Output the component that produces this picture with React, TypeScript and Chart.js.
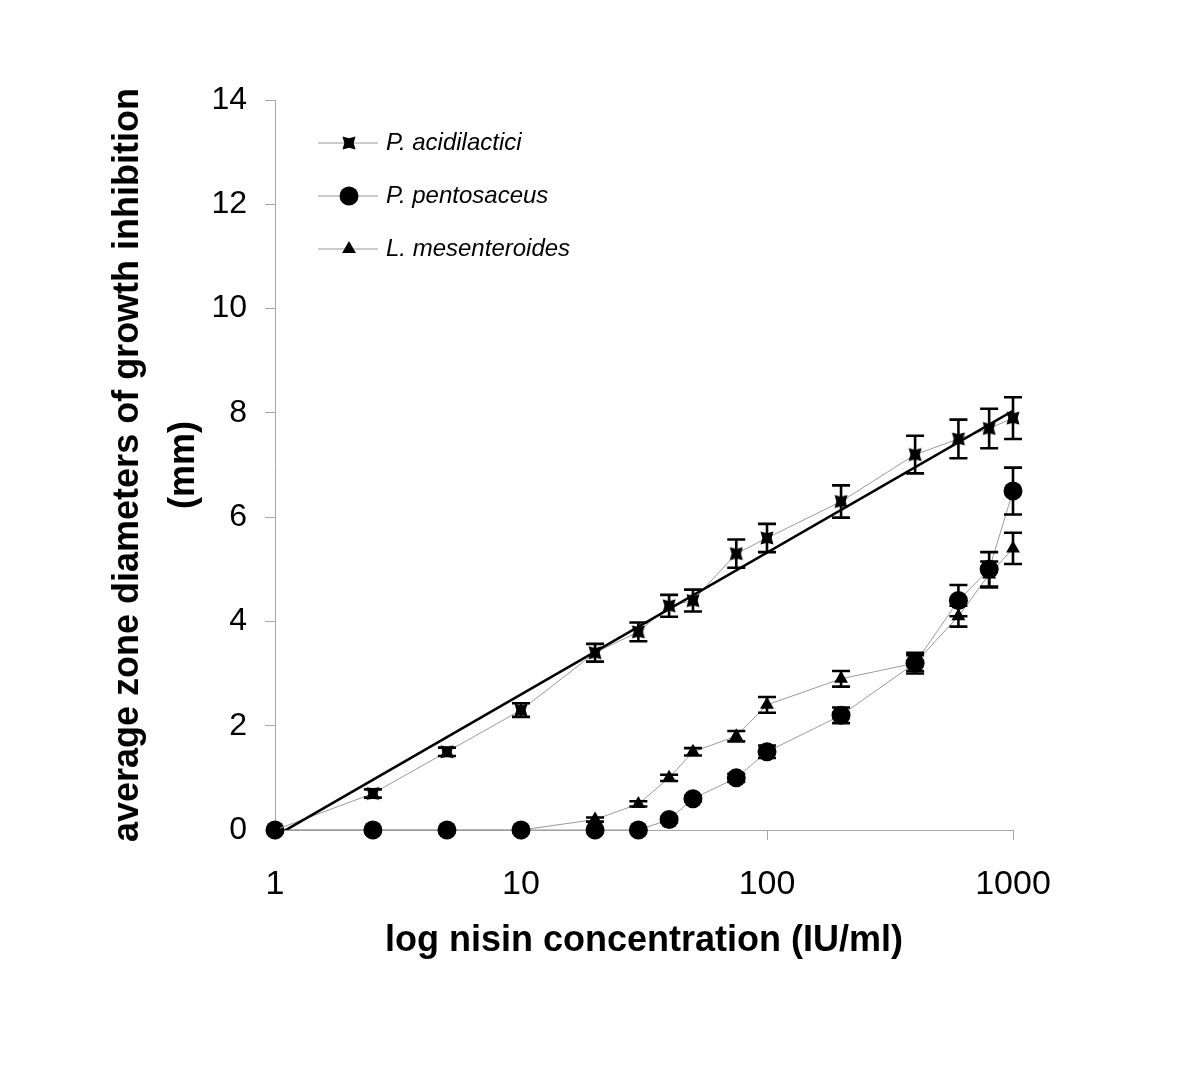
import React, { useEffect, useRef } from 'react';
import { Chart, registerables } from 'chart.js';

Chart.register(...registerables);

const FONT = '"Liberation Sans", Arial, Helvetica, sans-serif';

// Nisin concentrations (IU/ml)
const X_VALUES = [1, 2.5, 5, 10, 20, 30, 40, 50, 75, 100, 200, 400, 600, 800, 1000];

const SERIES_NAMES = ['P. acidilactici', 'P. pentosaceus', 'L. mesenteroides'];

const ACIDILACTICI = [0, 0.7, 1.5, 2.3, 3.4, 3.8, 4.3, 4.4, 5.3, 5.6, 6.3, 7.2, 7.5, 7.7, 7.9];
const ACIDILACTICI_ERR = [0, 0.08, 0.08, 0.13, 0.17, 0.18, 0.21, 0.21, 0.27, 0.27, 0.31, 0.36, 0.37, 0.38, 0.4];

const PENTOSACEUS = [0, 0, 0, 0, 0, 0, 0.2, 0.6, 1.0, 1.5, 2.2, 3.2, 4.4, 5.0, 6.5];
const PENTOSACEUS_ERR = [0, 0, 0, 0, 0, 0, 0.05, 0.05, 0.08, 0.12, 0.15, 0.2, 0.3, 0.33, 0.45];

const MESENTEROIDES = [0, 0, 0, 0, 0.2, 0.5, 1.0, 1.5, 1.8, 2.4, 2.9, 3.2, 4.1, 4.9, 5.4];
const MESENTEROIDES_ERR = [0, 0, 0, 0, 0.04, 0.05, 0.06, 0.07, 0.1, 0.15, 0.15, 0.15, 0.2, 0.25, 0.3];

// Logarithmic trend line of P. acidilactici (end points)
const TREND_X = [1, 1000];
const TREND_Y = [-0.12, 8.04];

const X_TICKS = [1, 10, 100, 1000];
const Y_MIN = 0;
const Y_MAX = 14;
const Y_STEP = 2;

const X_TITLE = 'log nisin concentration (IU/ml)';
const Y_TITLE = ['average zone diameters of growth inhibition', '(mm)'];

function starPath(g: CanvasRenderingContext2D, cx: number, cy: number, s: number) {
  const k = 0.72;
  g.beginPath();
  g.moveTo(cx - s, cy - s);
  g.lineTo(cx, cy - s * k);
  g.lineTo(cx + s, cy - s);
  g.lineTo(cx + s * k, cy);
  g.lineTo(cx + s, cy + s);
  g.lineTo(cx, cy + s * k);
  g.lineTo(cx - s, cy + s);
  g.lineTo(cx - s * k, cy);
  g.closePath();
}

function makeStarCanvas(): HTMLCanvasElement {
  const c = document.createElement('canvas');
  c.width = 16;
  c.height = 16;
  const g = c.getContext('2d') as CanvasRenderingContext2D;
  starPath(g, 8, 8, 6.5);
  g.fillStyle = '#000';
  g.fill();
  return c;
}

function drawMarker(g: CanvasRenderingContext2D, kind: number, x: number, y: number, r: number) {
  g.fillStyle = '#000';
  if (kind === 0) {
    starPath(g, x, y, 6.5);
    g.fill();
  } else if (kind === 1) {
    g.beginPath();
    g.arc(x, y, r, 0, Math.PI * 2);
    g.fill();
  } else {
    g.beginPath();
    let a = 0;
    g.moveTo(x + Math.sin(a) * r, y - Math.cos(a) * r);
    a += (2 * Math.PI) / 3;
    g.lineTo(x + Math.sin(a) * r, y - Math.cos(a) * r);
    a += (2 * Math.PI) / 3;
    g.lineTo(x + Math.sin(a) * r, y - Math.cos(a) * r);
    g.closePath();
    g.fill();
  }
}

export default function App() {
  const canvasRef = useRef<HTMLCanvasElement | null>(null);

  useEffect(() => {
    document.body.style.margin = '0';
    const canvas = canvasRef.current;
    if (!canvas) return;

    const star = makeStarCanvas();
    const styles: any[] = [star, 'circle', 'triangle'];
    const radii = [8, 9.5, 8];
    const values = [ACIDILACTICI, PENTOSACEUS, MESENTEROIDES];
    const errors = [ACIDILACTICI_ERR, PENTOSACEUS_ERR, MESENTEROIDES_ERR];

    const seriesDatasets = values.map((vals, si) => ({
      label: SERIES_NAMES[si],
      data: X_VALUES.map((x, i) => ({ x, y: vals[i] })),
      showLine: true,
      borderColor: '#9a9a9a',
      borderWidth: 1,
      backgroundColor: '#000',
      pointBackgroundColor: '#000',
      pointBorderColor: '#000',
      pointBorderWidth: 0,
      pointStyle: styles[si],
      pointRadius: radii[si],
      pointHoverRadius: radii[si],
      clip: false as const,
      order: 2,
    }));

    const trendDataset = {
      label: 'trend',
      data: TREND_X.map((x, i) => ({ x, y: TREND_Y[i] })),
      showLine: true,
      borderColor: '#000',
      borderWidth: 2.6,
      pointRadius: 0,
      clip: 0,
      order: 1,
    };

    const errorBarPlugin = {
      id: 'errorBars',
      afterDatasetsDraw(chart: any) {
        const { ctx } = chart;
        const xs = chart.scales.x;
        const ys = chart.scales.y;
        ctx.save();
        ctx.strokeStyle = '#000';
        ctx.lineWidth = 2.6;
        const cap = 9;
        values.forEach((vals, si) => {
          X_VALUES.forEach((x, i) => {
            const e = errors[si][i];
            if (!e) return;
            const px = xs.getPixelForValue(x);
            const top = ys.getPixelForValue(vals[i] + e);
            const bot = ys.getPixelForValue(vals[i] - e);
            ctx.beginPath();
            ctx.moveTo(px, top);
            ctx.lineTo(px, bot);
            ctx.moveTo(px - cap, top);
            ctx.lineTo(px + cap, top);
            ctx.moveTo(px - cap, bot);
            ctx.lineTo(px + cap, bot);
            ctx.stroke();
          });
        });
        ctx.restore();
      },
    };

    const legendPlugin = {
      id: 'insideLegend',
      afterDraw(chart: any) {
        const { ctx, chartArea } = chart;
        ctx.save();
        SERIES_NAMES.forEach((name, i) => {
          const y = chartArea.top + 43 + i * 53;
          const x0 = chartArea.left + 43;
          ctx.strokeStyle = '#9a9a9a';
          ctx.lineWidth = 1;
          ctx.beginPath();
          ctx.moveTo(x0, y);
          ctx.lineTo(x0 + 60, y);
          ctx.stroke();
          drawMarker(ctx, i, x0 + 31, y, radii[i]);
          ctx.fillStyle = '#000';
          ctx.font = `italic 24px ${FONT}`;
          ctx.textBaseline = 'middle';
          ctx.textAlign = 'left';
          ctx.fillText(name, x0 + 68, y);
        });
        ctx.restore();
      },
    };

    const chart = new Chart(canvas, {
      type: 'scatter',
      data: { datasets: [trendDataset as any, ...seriesDatasets] },
      options: {
        animation: false,
        responsive: false,
        events: [],
        layout: { padding: { left: 0, right: 187, top: 100, bottom: 0 } },
        plugins: {
          legend: { display: false },
          tooltip: { enabled: false },
        },
        scales: {
          x: {
            type: 'logarithmic',
            min: 1,
            max: 1000,
            afterBuildTicks: (scale: any) => {
              scale.ticks = X_TICKS.map((v) => ({ value: v }));
            },
            afterFit: (scale: any) => {
              scale.height = 243;
            },
            ticks: {
              color: '#000',
              font: { family: FONT, size: 34 },
              padding: 24,
              maxRotation: 0,
              autoSkip: false,
              callback: (v: any) => String(v),
            },
            grid: { drawOnChartArea: false, drawTicks: true, tickLength: 10, color: '#a6a6a6', lineWidth: 1 },
            border: { display: true, color: '#a6a6a6', width: 1 },
            title: {
              display: true,
              text: X_TITLE,
              color: '#000',
              font: { family: FONT, size: 36, weight: 'bold' },
              padding: { top: 0, bottom: 110 },
            },
          },
          y: {
            type: 'linear',
            min: Y_MIN,
            max: Y_MAX,
            afterFit: (scale: any) => {
              scale.width = 275;
            },
            ticks: {
              stepSize: Y_STEP,
              color: '#000',
              font: { family: FONT, size: 32 },
              padding: 18,
            },
            grid: { drawOnChartArea: false, drawTicks: true, tickLength: 10, color: '#a6a6a6', lineWidth: 1 },
            border: { display: true, color: '#a6a6a6', width: 1 },
            title: {
              display: true,
              text: Y_TITLE,
              color: '#000',
              font: { family: FONT, size: 36, weight: 'bold', lineHeight: 1.53 },
              padding: { top: 101, bottom: 0 },
            },
          },
        },
      },
      plugins: [errorBarPlugin, legendPlugin],
    });

    return () => {
      chart.destroy();
    };
  }, []);

  return (
    <div style={{ width: 1200, height: 1073, background: '#fff' }}>
      <canvas ref={canvasRef} width={1200} height={1073} style={{ display: 'block' }} />
    </div>
  );
}
